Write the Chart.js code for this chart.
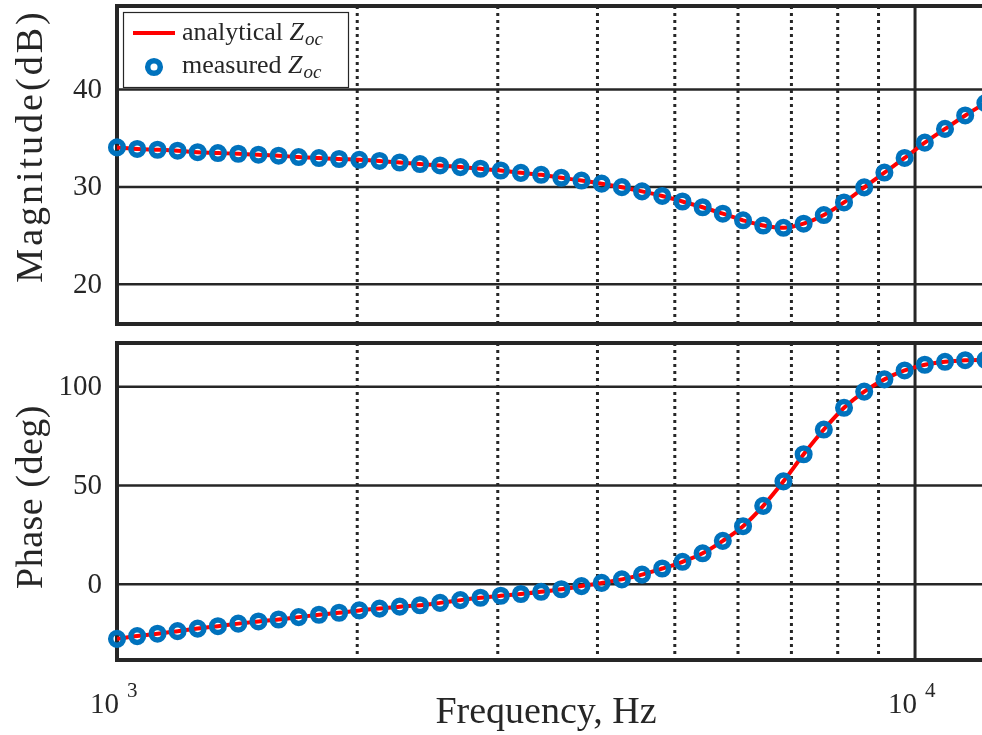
<!DOCTYPE html>
<html><head><meta charset="utf-8">
<script src="https://cdn.jsdelivr.net/npm/chart.js@4"></script>
<style>
html,body{margin:0;padding:0;background:#fff;overflow:hidden;width:982px;height:735px;}
#top{position:absolute;left:0;top:0;width:1010px;height:330px;}
#bot{position:absolute;left:0;top:330px;width:1010px;height:405px;}
</style></head><body>
<div id="top"><canvas id="c1"></canvas></div>
<div id="bot"><canvas id="c2"></canvas></div>
<script>
// ---------- data ----------
const frequencies = [1000, 1060, 1124, 1191, 1262, 1338, 1419, 1504, 1594, 1689, 1791, 1898, 2012, 2133, 2261, 2397, 2540, 2693, 2854, 3026, 3207, 3400, 3604, 3820, 4049, 4292, 4549, 4822, 5112, 5418, 5743, 6088, 6453, 6841, 7251, 7686, 8147, 8636, 9154, 9704, 10286, 10903, 11557, 12250];
const magnitudeMeasured = [34.05, 33.89, 33.81, 33.71, 33.56, 33.47, 33.40, 33.30, 33.20, 33.06, 32.96, 32.86, 32.78, 32.66, 32.50, 32.34, 32.20, 32.03, 31.86, 31.68, 31.44, 31.24, 30.93, 30.65, 30.33, 29.97, 29.54, 29.07, 28.50, 27.91, 27.25, 26.57, 26.03, 25.80, 26.22, 27.11, 28.40, 29.95, 31.47, 32.97, 34.54, 35.95, 37.33, 38.60];
const magnitudeAnalytical = [34.05, 33.89, 33.81, 33.71, 33.56, 33.47, 33.40, 33.30, 33.20, 33.06, 32.96, 32.86, 32.78, 32.66, 32.50, 32.34, 32.20, 32.03, 31.86, 31.68, 31.44, 31.24, 30.93, 30.65, 30.33, 29.97, 29.54, 29.07, 28.50, 27.91, 27.25, 26.57, 26.03, 25.80, 26.22, 27.11, 28.40, 29.95, 31.47, 32.97, 34.54, 35.95, 37.33, 38.60];
const phaseMeasured = [-27.6, -26.2, -25.0, -23.7, -22.4, -21.2, -19.9, -18.8, -17.8, -16.6, -15.4, -14.4, -13.2, -12.3, -11.3, -10.6, -9.4, -8.0, -6.8, -5.8, -4.9, -3.8, -2.5, -0.9, 0.7, 2.5, 4.9, 8.0, 11.4, 15.7, 22.0, 29.4, 39.7, 52.1, 65.8, 78.3, 89.3, 97.5, 103.7, 108.2, 111.1, 112.6, 113.4, 113.6];
const phaseAnalytical = [-27.6, -26.2, -25.0, -23.7, -22.4, -21.2, -19.9, -18.8, -17.8, -16.6, -15.4, -14.4, -13.2, -12.3, -11.3, -10.6, -9.4, -8.0, -6.8, -5.8, -4.9, -3.8, -2.5, -0.9, 0.7, 2.5, 4.9, 8.0, 11.4, 15.7, 22.0, 29.4, 39.7, 52.1, 65.8, 78.3, 89.3, 97.5, 103.7, 108.2, 111.1, 112.6, 113.4, 113.6];
const seriesNames = ['analytical', 'measured'];
const seriesSymbol = 'Z';
const seriesSubscript = 'oc';
const magTicks = [20, 30, 40];
const phaseTicks = [0, 50, 100];
const xMinorGrid = [2000, 3000, 4000, 5000, 6000, 7000, 8000, 9000];
const xMajorGrid = [10000];
const xTickValues = [1000, 10000];
const xTickBase = ['10', '10'];
const xTickExponents = ['3', '4'];
const magTitle = 'Magnitude(dB)';
const phaseTitle = 'Phase (deg)';
const xTitle = 'Frequency, Hz';

// ---------- style ----------
const INK = '#262626';
const BLUE = '#0072BD';
const RED = '#FF0000';
const SERIF = '"Liberation Serif", "DejaVu Serif", serif';
const X_MIN = 1000, X_MAX = 12778;

function pts(xs, ys){ return xs.map((x,i)=>({x:x, y:ys[i]})); }

const gridPlugin = {
  id: 'bodeGrid',
  beforeDatasetsDraw(chart, args, opts){
    const ctx = chart.ctx, a = chart.chartArea, xs = chart.scales.x, ys = chart.scales.y;
    ctx.save();
    ctx.strokeStyle = INK;
    ctx.lineWidth = 2.5; ctx.setLineDash([]);
    opts.yGrid.forEach(v => { const y = ys.getPixelForValue(v); ctx.beginPath(); ctx.moveTo(a.left, y); ctx.lineTo(a.right, y); ctx.stroke(); });
    ctx.lineWidth = 3; ctx.setLineDash([3, 4]);
    xMinorGrid.forEach(v => { const x = xs.getPixelForValue(v); ctx.beginPath(); ctx.moveTo(x, a.top); ctx.lineTo(x, a.bottom); ctx.stroke(); });
    ctx.setLineDash([]); ctx.lineWidth = 3;
    xMajorGrid.forEach(v => { const x = xs.getPixelForValue(v); ctx.beginPath(); ctx.moveTo(x, a.top); ctx.lineTo(x, a.bottom); ctx.stroke(); });
    ctx.lineWidth = 4;
    ctx.strokeRect(a.left, a.top, a.right - a.left, a.bottom - a.top);
    ctx.fillStyle = INK; ctx.font = '29px ' + SERIF; ctx.textAlign = 'right'; ctx.textBaseline = 'middle';
    opts.yGrid.forEach(v => { ctx.fillText(String(v), 102, ys.getPixelForValue(v) + 1); });
    ctx.restore();
  }
};

function drawYTitle(ctx, text, x, cy, spacing){
  ctx.save();
  ctx.translate(x, cy); ctx.rotate(-Math.PI/2);
  ctx.font = '38px ' + SERIF; ctx.fillStyle = INK; ctx.textAlign = 'center'; ctx.textBaseline = 'alphabetic';
  try { ctx.letterSpacing = spacing; } catch(e){}
  ctx.fillText(text, 0, 0);
  ctx.restore();
}

function drawLegendLabel(ctx, name, x, y){
  ctx.font = '26px ' + SERIF; ctx.fillStyle = INK; ctx.textAlign = 'left'; ctx.textBaseline = 'alphabetic';
  const t = name + ' ';
  ctx.fillText(t, x, y);
  let w = ctx.measureText(t).width;
  ctx.font = 'italic 26px ' + SERIF;
  ctx.fillText(seriesSymbol, x + w, y);
  w += ctx.measureText(seriesSymbol).width;
  ctx.font = 'italic 19px ' + SERIF;
  ctx.fillText(seriesSubscript, x + w + 1, y + 5);
}

const topTextPlugin = {
  id: 'topText',
  afterDraw(chart){
    const ctx = chart.ctx;
    drawYTitle(ctx, magTitle, 42, 146, '3px');
    ctx.save();
    ctx.fillStyle = '#fff'; ctx.fillRect(123, 12, 225, 75);
    ctx.strokeStyle = INK; ctx.lineWidth = 1.2; ctx.strokeRect(123.5, 12.5, 225, 75);
    const dsLine = chart.data.datasets[1], dsPts = chart.data.datasets[0];
    ctx.strokeStyle = dsLine.borderColor; ctx.lineWidth = dsLine.borderWidth;
    ctx.beginPath(); ctx.moveTo(133, 33); ctx.lineTo(175, 33); ctx.stroke();
    ctx.strokeStyle = dsPts.pointBorderColor; ctx.lineWidth = dsPts.pointBorderWidth;
    ctx.beginPath(); ctx.arc(154, 67, dsPts.pointRadius, 0, Math.PI*2); ctx.stroke();
    drawLegendLabel(ctx, seriesNames[0], 182, 40);
    drawLegendLabel(ctx, seriesNames[1], 182, 73);
    ctx.restore();
  }
};

const botTextPlugin = {
  id: 'botText',
  afterDraw(chart){
    const ctx = chart.ctx, xs = chart.scales.x;
    drawYTitle(ctx, phaseTitle, 42, 167, '0.5px');
    ctx.save();
    ctx.fillStyle = INK; ctx.textBaseline = 'alphabetic';
    xTickValues.forEach((v, i) => {
      const x = xs.getPixelForValue(v);
      ctx.font = '29px ' + SERIF; ctx.textAlign = 'right';
      ctx.fillText(xTickBase[i], x + 2, 383);
      ctx.font = '21px ' + SERIF; ctx.textAlign = 'left';
      ctx.fillText(xTickExponents[i], x + 10, 367);
    });
    ctx.font = '38px ' + SERIF; ctx.textAlign = 'center';
    ctx.fillText(xTitle, 546, 393);
    ctx.restore();
  }
};

function makeChart(id, measured, analytical, yMin, yMax, yTicks, padTop, xAxisHeight, textPlugin){
  return new Chart(document.getElementById(id), {
    type: 'line',
    data: {
      datasets: [
        { label: seriesNames[1], data: pts(frequencies, measured), showLine: false,
          pointStyle: 'circle', pointRadius: 6.3, pointHoverRadius: 6.3, pointBorderWidth: 5.5,
          pointBorderColor: BLUE, pointBackgroundColor: 'rgba(0,0,0,0)', order: 0, clip: false },
        { label: seriesNames[0], data: pts(frequencies, analytical), borderColor: RED, borderWidth: 4,
          pointRadius: 0, cubicInterpolationMode: 'monotone', fill: false, order: 1 }
      ]
    },
    options: {
      responsive: true, maintainAspectRatio: false, animation: false, devicePixelRatio: 1,
      layout: { autoPadding: false, padding: { left: 0, top: padTop, right: 10, bottom: 0 } },
      plugins: { legend: { display: false }, tooltip: { enabled: false }, bodeGrid: { yGrid: yTicks } },
      scales: {
        x: { type: 'logarithmic', min: X_MIN, max: X_MAX,
             ticks: { display: false }, grid: { display: false }, border: { display: false },
             afterFit: s => { s.height = xAxisHeight; s.paddingLeft = 0; s.paddingRight = 0; } },
        y: { type: 'linear', min: yMin, max: yMax,
             afterBuildTicks: s => { s.ticks = yTicks.map(v => ({ value: v })); },
             afterFit: s => { s.width = 117; s.paddingTop = 0; s.paddingBottom = 0; },
             ticks: { display: false },
             grid: { display: false }, border: { display: false } }
      }
    },
    plugins: [gridPlugin, textPlugin]
  });
}

makeChart('c1', magnitudeMeasured, magnitudeAnalytical, 15.93, 48.56, magTicks, 6, 6, topTextPlugin);
makeChart('c2', phaseMeasured, phaseAnalytical, -38.3, 122.1, phaseTicks, 13, 75, botTextPlugin);
</script>
</body></html>
